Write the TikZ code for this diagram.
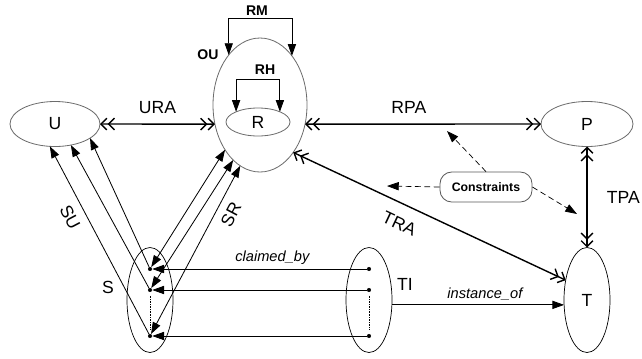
\documentclass[tikz,border=0pt]{standalone}
\usepackage{fontspec}
\setmainfont{Liberation Sans}
\usetikzlibrary{arrows.meta}
\usetikzlibrary{shapes.geometric}
\tikzset{chev/.tip={Straight Barb[length=5pt,width=10pt]}, head/.tip={Triangle[length=10pt,width=7pt]}}
\tikzstyle{entity}=[draw=gray!85!black, line width=0.7pt, ellipse, inner sep=0, outer sep=0, font=\fontsize{15}{18}\selectfont]
\tikzstyle{set}=[entity, draw=black, line width=0.6pt]
\tikzstyle{member}=[circle, fill, inner sep=0, minimum size=3.5pt]
\tikzstyle{tag}=[font=\fontsize{15}{18}\selectfont]
\tikzstyle{small tag}=[font=\fontsize{12}{14}\selectfont\bfseries]
\tikzstyle{role}=[font=\fontsize{12.5}{15}\selectfont\itshape]
\tikzstyle{note}=[draw=gray!70!black, line width=0.7pt, rounded corners=0.35cm, minimum width=2.76cm, minimum height=0.9cm, inner sep=0, font=\fontsize{10.5}{12}\selectfont\bfseries]
\tikzstyle{association}=[line width=1.2pt, arrows={chev[]chev[]-chev[]chev[]}]
\tikzstyle{link}=[line width=0.7pt, arrows={-head[]}]
\tikzstyle{both link}=[link, arrows={head[]-head[]}]
\tikzstyle{constraint}=[line width=0.6pt, dash pattern=on 5pt off 3pt, arrows={-head[]}]

\begin{document}
\begin{tikzpicture}[x=0.03cm, y=-0.03cm]
      \useasboundingbox (0,0) rectangle (642,358);

      \node[entity, minimum width=2.7cm, minimum height=1.35cm] (U) at (55,124) {U};
      \node[entity, minimum width=2.82cm, minimum height=4.02cm] (OU) at (260,105) {};
      \node[entity, minimum width=1.92cm, minimum height=0.84cm] (R) at (258,122) {R};
      \node[entity, minimum width=2.76cm, minimum height=1.35cm] (P) at (587,124) {P};
      \node[set, minimum width=1.38cm, minimum height=3.15cm] (S) at (150,300) {};
      \node[set, minimum width=1.38cm, minimum height=3.15cm] (TI) at (369,300) {};
      \node[set, minimum width=1.38cm, minimum height=3.15cm] (T) at (587,300) {T};
      \node[note] (con) at (486,187) {Constraints};

      \node[member] (s1) at (150,269) {};
      \node[member] (s2) at (150,290) {};
      \node[member] (s3) at (150,336) {};
      \node[member] (t1) at (369,269) {};
      \node[member] (t2) at (369,290) {};
      \node[member] (t3) at (369,336) {};
      \draw[densely dotted, shorten <=3pt, shorten >=3pt] (s2) -- (s3);
      \draw[densely dotted, shorten <=3pt, shorten >=3pt] (t2) -- (t3);

      \node[tag] (Stag) at (108,287) {S};
      \node[tag] (TItag) at (405,284) {TI};
      \node[small tag] (OUtag) at (208,55) {OU};
      \node[small tag] (RMtag) at (257,11) {RM};
      \node[small tag] (RHtag) at (265,70) {RH};

      \draw[both link] (OU.122) -- ++(0,-37) -| (OU.57);
      \draw[both link] (R.155) -- ++(0,-32) -| (R.25);

      \draw[association] (U.east) to node[tag, above=5pt] (URA) {URA} (OU.203);
      \draw[association] (OU.337) to node[tag, above=5pt, pos=0.44] (RPA) {RPA} (P.west);
      \draw[association] (P.south) to node[tag, right=13pt] (TPA) {TPA} (T.north);
      \draw[association] (OU.305) to node[tag, sloped, below=7.5pt, pos=0.42] (TRA) {TRA} (T.137);

      \draw[link] (s3) to node[tag, sloped, below=4pt, pos=0.66] (SU) {SU} (U.257);
      \draw[link] (s2) to (U.307);
      \draw[link] (s1) to (U.338);

      \draw[both link] (OU.232) to (s1);
      \draw[both link] (OU.244) to (s2);
      \draw[both link] (OU.252) to node[tag, sloped, below=3.5pt, pos=0.25] (SR) {SR} (s3);

      \draw[link] (t1) to node[role, above, pos=0.44] (claimed) {claimed\_by} (s1);
      \draw[link] (t2) to (s2);
      \draw[link] (t3) to (s3);
      \draw[link] (TI.-12) to node[role, above, pos=0.54] (instance) {instance\_of} (T.192);

      \coordinate (onRPA) at (447,131);
      \coordinate (onTRA) at (387,186);
      \coordinate (onTPA) at (577,214);
      \draw[constraint] (con.north) to (onRPA);
      \draw[constraint] (con.west) to (onTRA);
      \draw[constraint] (con.east) to (onTPA);
    \end{tikzpicture}
\end{document}
